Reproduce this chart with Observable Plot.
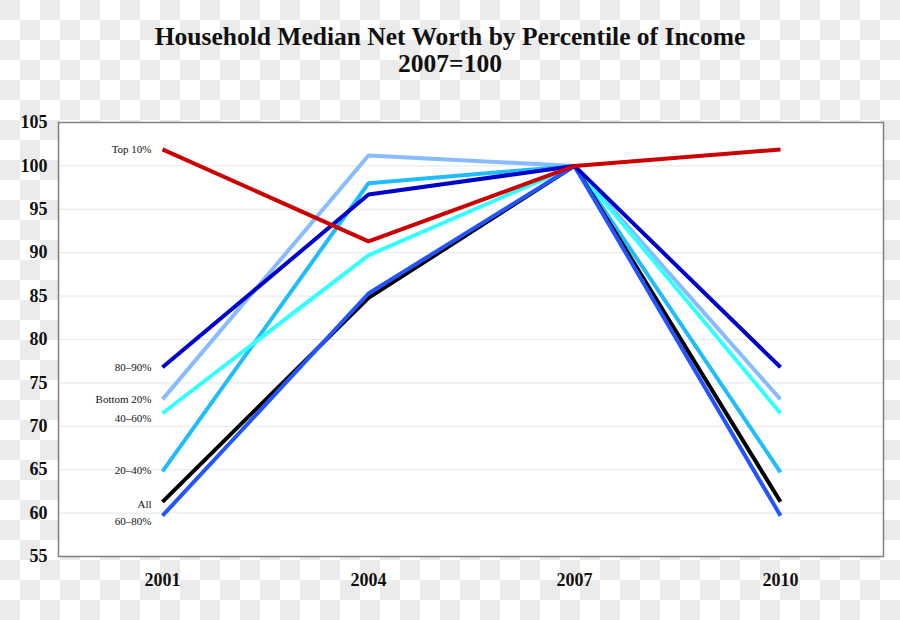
<!DOCTYPE html>
<html>
<head>
<meta charset="utf-8">
<script src="https://cdn.jsdelivr.net/npm/d3@7"></script>
<script src="https://cdn.jsdelivr.net/npm/@observablehq/plot@0.6"></script>
<style>
  html, body { margin: 0; padding: 0; }
  body {
    width: 900px; height: 620px; overflow: hidden;
    background-color: #ffffff;
    background-image: conic-gradient(#ebebeb 0 25%, #ffffff 0 50%, #ebebeb 0 75%, #ffffff 0);
    background-size: 40px 40px;
    background-position: 20px 0;
    font-family: "Liberation Serif", "DejaVu Serif", serif;
  }
  #title {
    height: 100px; box-sizing: border-box; padding-top: 23px;
    text-align: center; font-weight: bold; font-size: 25.5px; line-height: 27px; color: #111;
  }
  #chart svg { display: block; background: transparent !important; }
</style>
</head>
<body>
<div id="title">Household Median Net Worth by Percentile of Income<br>2007=100</div>
<div id="chart"></div>
<script>
const years = ["2001", "2004", "2007", "2010"];
const seriesNames = ["Bottom 20%", "20–40%", "40–60%", "All", "60–80%", "80–90%", "Top 10%"];
const bottom20 = [73.1, 101.2, 100, 73.1];
const p20_40   = [64.8, 98.0, 100, 64.7];
const p40_60   = [71.5, 89.7, 100, 71.5];
const allHH    = [61.3, 84.8, 100, 61.3];
const p60_80   = [59.7, 85.3, 100, 59.7];
const p80_90   = [76.8, 96.7, 100, 76.8];
const top10    = [101.9, 91.3, 100, 101.9];
const seriesValues = [bottom20, p20_40, p40_60, allHH, p60_80, p80_90, top10];
const seriesColors = ["#88bbff", "#1fbcff", "#33ffff", "#000000", "#2255ff", "#0000cc", "#cc0000"];
const yTicks = [55, 60, 65, 70, 75, 80, 85, 90, 95, 100, 105];
// vertical nudges (px) for the left-hand series labels — styling only
const labelDy = [0, -1, 5, 3, 6, 0, 0];

const rows = [];
seriesNames.forEach((s, i) => {
  years.forEach((yr, j) => rows.push({series: s, year: yr, value: seriesValues[i][j]}));
});

const labelMarks = seriesNames.map((s, i) =>
  Plot.text(rows.filter(d => d.series === s && d.year === years[0]), {
    x: "year", y: "value", text: "series", textAnchor: "end",
    dx: -11, dy: labelDy[i], fontSize: 11, fill: "#111"
  })
);

const plot = Plot.plot({
  width: 900,
  height: 520,
  marginTop: 22,
  marginBottom: 64,
  marginLeft: 58,
  marginRight: 17,
  style: {background: "transparent", fontFamily: "Liberation Serif, DejaVu Serif, serif", color: "#111"},
  x: {type: "point", domain: years, padding: 0.5},
  y: {domain: [55, 105]},
  color: {domain: seriesNames, range: seriesColors},
  marks: [
    Plot.frame({fill: "white", stroke: null}),
    Plot.ruleY(yTicks.slice(1, -1), {stroke: "#e6e6e6", strokeWidth: 1}),
    Plot.axisY({ticks: yTicks, tickSize: 0, tickPadding: 11, fontSize: 18, fontWeight: "bold", label: null}),
    Plot.axisX({tickSize: 0, tickPadding: 17, fontSize: 18, fontWeight: "bold", label: null}),
    Plot.line(rows, {x: "year", y: "value", z: "series", stroke: "series", strokeWidth: 4, strokeLinejoin: "miter", strokeLinecap: "butt"}),
    ...labelMarks,
    Plot.frame({stroke: "#808080", strokeWidth: 1.5, fill: null})
  ]
});
document.getElementById("chart").appendChild(plot);
</script>
</body>
</html>
